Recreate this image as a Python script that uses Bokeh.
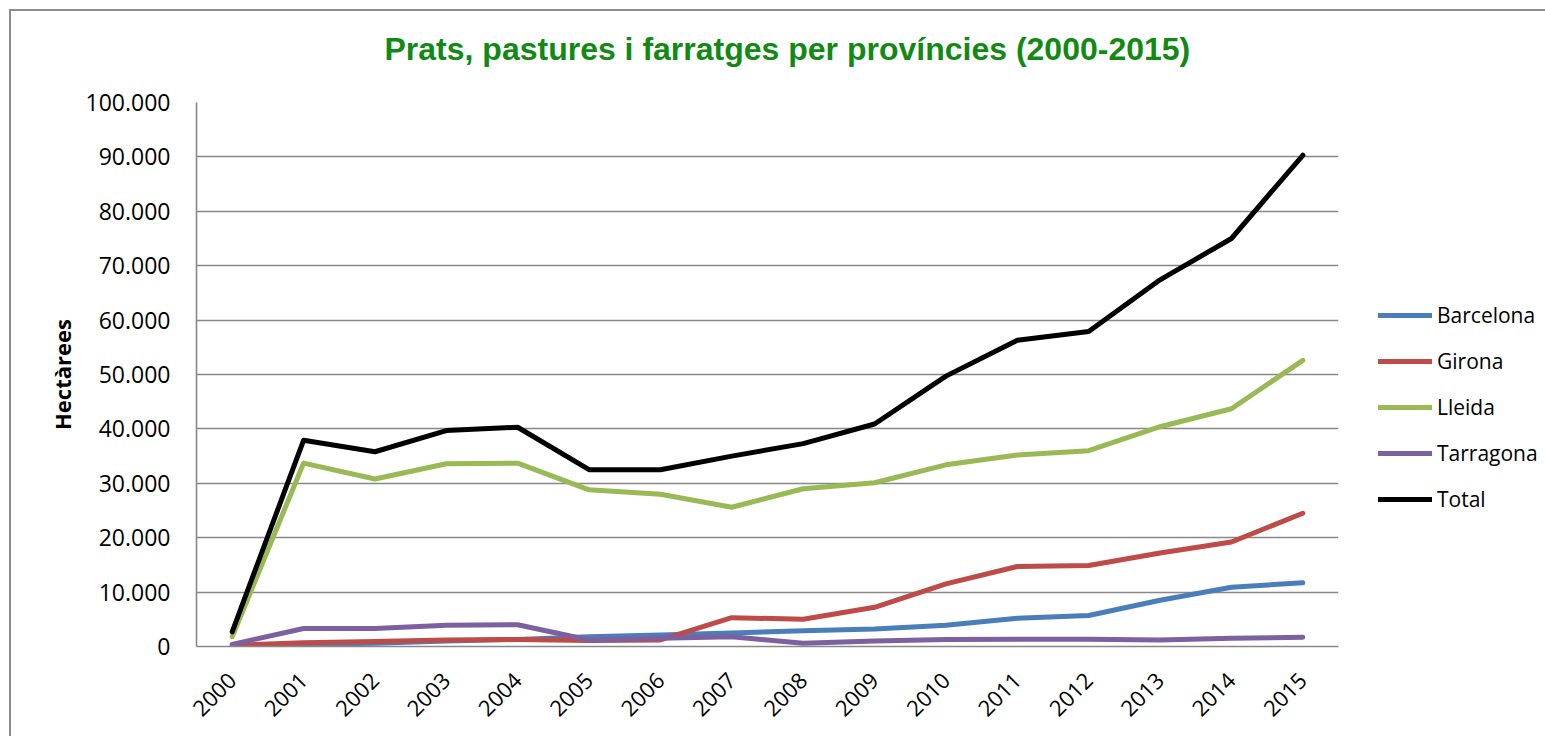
import math
from bokeh.plotting import figure
from bokeh.models import FactorRange, Range1d, FixedTicker, Legend, LegendItem, Title
from bokeh.embed import file_html
from bokeh.resources import INLINE

# ---------------- data ----------------
years = ["2000", "2001", "2002", "2003", "2004", "2005", "2006", "2007",
         "2008", "2009", "2010", "2011", "2012", "2013", "2014", "2015"]
barcelona = [100, 400, 600, 1000, 1300, 1800, 2100, 2500,
             2900, 3200, 3900, 5200, 5700, 8500, 10900, 11700]
girona = [200, 700, 900, 1200, 1300, 1100, 1200, 5300,
          5000, 7200, 11500, 14700, 14900, 17200, 19200, 24500]
lleida = [1800, 33700, 30800, 33600, 33700, 28800, 28000, 25600,
          29000, 30100, 33400, 35200, 36000, 40400, 43700, 52600]
tarragona = [400, 3300, 3300, 3900, 4000, 1200, 1500, 1800,
             600, 1000, 1300, 1350, 1350, 1200, 1500, 1700]
total = [2700, 37900, 35800, 39700, 40300, 32500, 32500, 35000,
         37300, 40900, 49700, 56300, 57900, 67400, 75000, 90300]

series_names = ["Barcelona", "Girona", "Lleida", "Tarragona", "Total"]
series_values = [barcelona, girona, lleida, tarragona, total]
series_colors = ["#4A7EBB", "#BE4B48", "#98B954", "#7D60A0", "#000000"]

y_tick_values = [0, 10000, 20000, 30000, 40000, 50000, 60000, 70000, 80000, 90000, 100000]
y_tick_labels = ["0", "10.000", "20.000", "30.000", "40.000", "50.000",
                 "60.000", "70.000", "80.000", "90.000", "100.000"]

title_text = "Prats, pastures i farratges per províncies (2000-2015)"
y_label = "Hectàrees"

# ---------------- figure ----------------
FONT = "Open Sans"
GRID = "#888888"

p = figure(
    x_range=FactorRange(*years, range_padding=0),
    y_range=Range1d(0, 100000),
    frame_width=1142, frame_height=544,
    min_border_left=185, min_border_right=207,
    min_border_top=91, min_border_bottom=90,
    output_backend="svg", toolbar_location=None,
)
p.styles = {"margin-left": "9px", "margin-top": "9px",
            "border-left": "2px solid #8C8C8C", "border-top": "2px solid #8C8C8C"}

# spacer between frame and title (nearest to the frame)
p.add_layout(Title(text=" ", text_font_size="1px", standoff=33), "above")
# main title
p.add_layout(Title(text=title_text, text_font="Liberation Sans",
                   text_font_style="bold", text_font_size="32px",
                   text_color="#118A14", align="left", offset=188,
                   standoff=0), "above")

p.outline_line_color = None
p.background_fill_color = "white"
p.border_fill_color = "white"

# grid
p.xgrid.grid_line_color = None
p.ygrid.grid_line_color = GRID
p.ygrid.grid_line_width = 1.6
p.ygrid.ticker = FixedTicker(ticks=y_tick_values)

# y axis
p.yaxis.ticker = FixedTicker(ticks=y_tick_values)
p.yaxis.major_label_overrides = {v: s for v, s in zip(y_tick_values, y_tick_labels)}
p.yaxis.axis_line_color = GRID
p.yaxis.axis_line_width = 1.6
p.yaxis.major_tick_line_color = None
p.yaxis.minor_tick_line_color = None
p.yaxis.major_tick_out = 0
p.yaxis.major_tick_in = 0
p.yaxis.major_label_standoff = 26
p.yaxis.major_label_text_font = FONT
p.yaxis.major_label_text_font_size = "23px"
p.yaxis.major_label_text_color = "black"
p.yaxis.axis_label = y_label
p.yaxis.axis_label_text_font = FONT
p.yaxis.axis_label_text_font_style = "bold"
p.yaxis.axis_label_text_font_size = "22px"
p.yaxis.axis_label_text_color = "black"
p.yaxis.axis_label_standoff = 6

# x axis
p.xaxis.axis_line_color = GRID
p.xaxis.axis_line_width = 1.6
p.xaxis.major_tick_line_color = None
p.xaxis.minor_tick_line_color = None
p.xaxis.major_tick_out = 0
p.xaxis.major_tick_in = 0
p.xaxis.major_label_orientation = math.pi / 4
p.xaxis.major_label_standoff = 30
p.xaxis.major_label_text_font = FONT
p.xaxis.major_label_text_font_size = "22px"
p.xaxis.major_label_text_color = "black"

# lines
items = []
for name, vals, col in zip(series_names, series_values, series_colors):
    r = p.line(x=years, y=vals, line_color=col, line_width=5,
               line_join="round", line_cap="round")
    items.append(LegendItem(label=name, renderers=[r]))

legend = Legend(items=items, location=(40, 132))
legend.border_line_color = None
legend.background_fill_alpha = 0
legend.padding = 0
legend.margin = 0
legend.glyph_width = 54
legend.glyph_height = 30
legend.label_height = 30
legend.spacing = 16
legend.label_standoff = 5
legend.label_text_font = FONT
legend.label_text_font_size = "21px"
legend.label_text_color = "black"
p.add_layout(legend, "right")

open("out.html", "w").write(file_html(p, INLINE))
